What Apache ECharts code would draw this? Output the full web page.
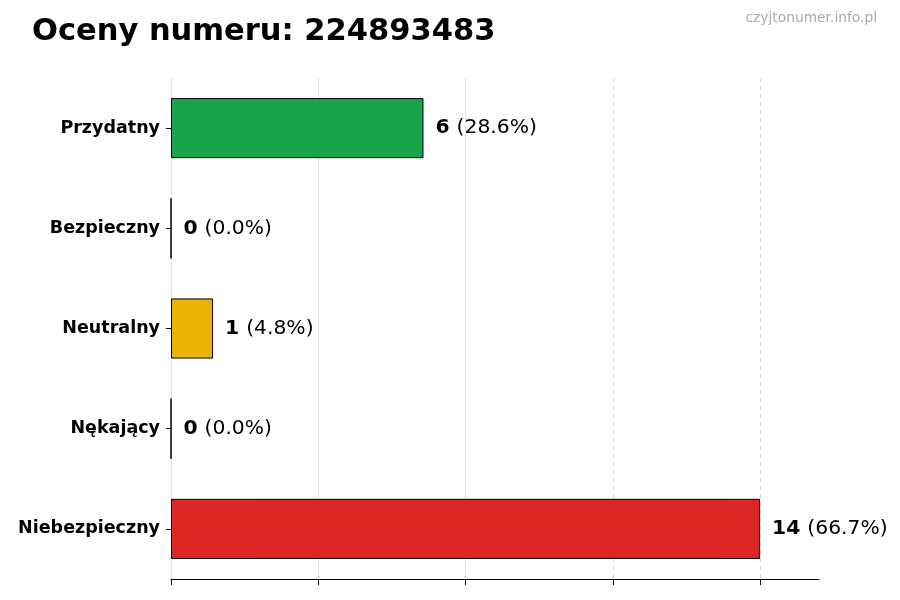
<!DOCTYPE html>
<html><head><meta charset="utf-8">
<script src="https://cdn.jsdelivr.net/npm/echarts@6/dist/echarts.min.js"></script>
<style>html,body{margin:0;padding:0;background:#fff}#c{width:900px;height:600px}</style>
</head><body><div id="c"></div>
<script>
const categories = ['Przydatny', 'Bezpieczny', 'Neutralny', 'Nękający', 'Niebezpieczny'];
const counts = [6, 0, 1, 0, 14];
const percents = ['28.6%', '0.0%', '4.8%', '0.0%', '66.7%'];
const colors = ['#16a34a', '#16a34a', '#eab308', '#eab308', '#dc2626'];
const xTicks = [0, 3.5, 7, 10.5, 14];
const titleText = 'Oceny numeru: 224893483';
const watermark = 'czyjtonumer.info.pl';

const chart = echarts.init(document.getElementById('c'), null, {renderer: 'canvas'});
const font = 'DejaVu Sans';
chart.setOption({
  animation: false,
  backgroundColor: '#fff',
  title: [
    {text: titleText, left: 27, top: 12, textStyle: {fontFamily: font, fontSize: 30.5, fontWeight: 'bold', color: '#000'}},
    {text: watermark, right: 18, top: 6, textStyle: {fontFamily: font, fontSize: 13.8, fontWeight: 'normal', color: '#aaa'}}
  ],
  grid: {left: 171, right: 81, top: 78, bottom: 21, containLabel: false},
  xAxis: {
    type: 'value', min: 0, max: 15.4, interval: 3.5,
    axisLine: {show: true, lineStyle: {color: '#000', width: 1}},
    axisTick: {show: true, length: 6, inside: false, customValues: xTicks, lineStyle: {color: '#000'}},
    axisLabel: {show: false},
    splitLine: {show: true, lineStyle: {color: '#d0d0d0', type: [5, 3], width: 0.8}}
  },
  yAxis: {
    type: 'category', data: categories, inverse: true,
    axisLine: {show: false},
    axisTick: {show: true, length: 5, alignWithLabel: true, lineStyle: {color: '#000'}},
    axisLabel: {fontFamily: font, fontSize: 17.5, fontWeight: 'bold', color: '#000', margin: 11, padding: [4, 0, 0, 0]}
  },
  series: [{
    type: 'bar',
    data: counts.map((v, i) => ({value: v, itemStyle: {color: colors[i]}})),
    barWidth: '60%',
    itemStyle: {borderColor: '#000', borderWidth: 1},
    label: {
      show: true, position: 'right', distance: 12,
      formatter: p => '{b|' + counts[p.dataIndex] + '}{n|(' + percents[p.dataIndex] + ')}',
      rich: {
        b: {fontFamily: font, fontSize: 20.3, fontWeight: 'bold', color: '#000', padding: [0, 7, 0, 0]},
        n: {fontFamily: font, fontSize: 20.3, color: '#000'}
      }
    }
  }]
});
</script></body></html>
